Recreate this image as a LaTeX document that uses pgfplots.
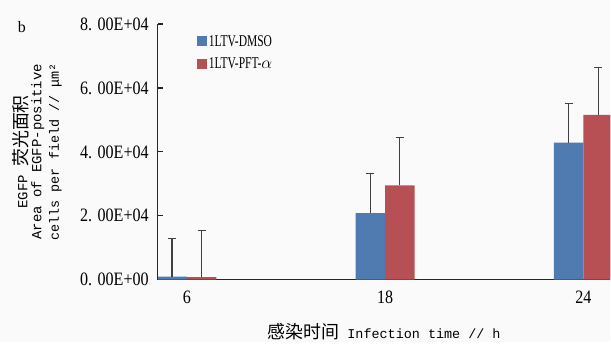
\documentclass[border=0pt]{standalone}
\usepackage{pgfplots}
\pgfplotsset{compat=1.18}
\usepackage{fontspec}
\setmainfont{Liberation Serif}
\newfontfamily\tickfont{Liberation Serif}[FakeStretch=0.85]
\newfontfamily\legfont{Liberation Serif}[FakeStretch=0.7]
\newfontfamily\monofont{Liberation Mono}
\newfontfamily\cjk{Noto Sans CJK SC}
\definecolor{cblue}{RGB}{79,123,176}
\definecolor{cred}{RGB}{183,80,84}
\definecolor{bg}{RGB}{250,250,250}
\pgfplotsset{myerr/.style={
  error bars/y dir=plus, error bars/y explicit, error bars/error mark=-,
  error bars/error bar style={line width=1.1pt, draw=black!75},
  error bars/error mark options={line width=1.1pt, draw=black!75, mark size=4bp, rotate=90}}}
\begin{document}
\begin{tikzpicture}
\fill[bg] (-158bp,-62bp) rectangle (453bp,280bp);
\begin{axis}[
  at={(0,0)}, anchor=south west,
  scale only axis, width=453bp, height=256bp,
  xmin=-0.146, xmax=2.136, ymin=0, ymax=80000,
  scaled y ticks=false,
  axis x line*=bottom, axis y line*=left,
  axis line style={-, line width=1.2pt, black!85},
  ybar=0pt, bar width=0.149,
  legend image code/.code={\fill[#1] (0bp,-5bp) rectangle (10bp,5bp);},
  xtick={0,1,2}, xticklabels={6,18,24},
  x tick style={draw=none},
  ytick={0,20000,40000,60000,80000},
  yticklabels={0. 00E+00,2. 00E+04,4. 00E+04,6. 00E+04,8. 00E+04},
  tick align=inside, major tick length=5bp, ytick pos=left,
  y tick style={line width=1.2pt, black!85},
  yticklabel style={font=\tickfont\fontsize{19}{19}\selectfont, inner xsep=2bp, xshift=-7bp},
  xticklabel style={font=\tickfont\fontsize{19}{19}\selectfont, yshift=-8bp},
  xlabel={{\cjk\fontsize{18}{18}\selectfont 感染时间}{\monofont\fontsize{13.5}{14}\selectfont{} Infection time // h}},
  xlabel style={at={(axis description cs:0.5,-0.203)}, anchor=center},
  ylabel={{\monofont\fontsize{14}{14}\selectfont EGFP }{\cjk\fontsize{18}{18}\selectfont 荧光面积}\\[2bp]
          {\monofont\fontsize{14}{14}\selectfont Area of EGFP-positive}\\[4bp]
          {\monofont\fontsize{13.5}{14}\selectfont cells per field // μm²}},
  ylabel style={at={(axis description cs:-0.267,0.5)}, anchor=center, align=center},
  legend style={at={(axis description cs:0.086,0.965)}, anchor=north west,
    draw=none, fill=none, inner sep=0pt, row sep=6bp,
    font=\legfont\fontsize{16.5}{16.5}\selectfont,
    nodes={inner sep=2bp}},
  legend cell align=left,
]
\addplot[fill=cblue, draw=none, myerr] coordinates {
  (0,1000) +- (0,11800)
  (1,20800) +- (0,12300)
  (2,42900) +- (0,12300)
};
\addplot[fill=cred, draw=none, myerr] coordinates {
  (0,850) +- (0,14500)
  (1,29500) +- (0,15000)
  (2,51600) +- (0,14700)
};
\legend{1LTV-DMSO, 1LTV-PFT-$\alpha$}
\end{axis}
\node[font=\fontsize{16}{16}\selectfont] at (-136bp,253bp) {b};
\end{tikzpicture}
\end{document}
